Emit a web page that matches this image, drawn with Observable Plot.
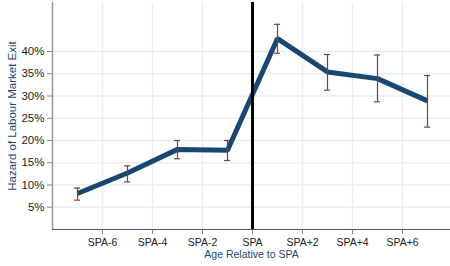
<!DOCTYPE html>
<html><head><meta charset="utf-8">
<script src="https://cdn.jsdelivr.net/npm/d3@7"></script>
<script src="https://cdn.jsdelivr.net/npm/@observablehq/plot@0.6"></script>
<style>body{margin:0;background:#fff}</style>
</head><body><div id="chart"></div>
<script>
const years = [-7, -5, -3, -1, 1, 3, 5, 7];
const hazard = [8.1, 12.7, 18.0, 17.8, 42.9, 35.4, 33.9, 28.9];
const ciLow = [6.6, 10.7, 15.9, 15.5, 39.6, 31.3, 28.7, 23.0];
const ciHigh = [9.3, 14.3, 20.0, 20.0, 46.1, 39.3, 39.2, 34.6];
const xTicks = [-6, -4, -2, 0, 2, 4, 6];
const xTickLabels = ["SPA-6", "SPA-4", "SPA-2", "SPA", "SPA+2", "SPA+4", "SPA+6"];
const yTicks = [5, 10, 15, 20, 25, 30, 35, 40];
const spaLine = [0];

const data = years.map((x, i) => ({x, y: hazard[i], lo: ciLow[i], hi: ciHigh[i]}));
const navy = "#1a476f";
const maroon = "#90353b";
const grid = "#e8eff2";
const capHalf = 0.12;

const chart = Plot.plot({
  width: 450,
  height: 266,
  marginLeft: 52,
  marginRight: 0,
  marginTop: 2,
  marginBottom: 37,
  style: {fontFamily: "'Liberation Sans', Arial, sans-serif", fontSize: "10px", background: "#fff"},
  x: {domain: [-8, 7.92]},
  y: {domain: [0, 51]},
  marks: [
    Plot.ruleY(yTicks, {stroke: grid, strokeWidth: 1.5}),
    Plot.ruleX(xTicks, {stroke: grid, strokeWidth: 1.5}),
    Plot.axisY({ticks: yTicks, tickFormat: d => d + "%", tickSize: 5, tickPadding: 3, stroke: "#888",
      color: "#222", label: "Hazard of Labour Market Exit", labelAnchor: "center", labelArrow: "none", labelOffset: 45, fontSize: 11.5}),
    Plot.axisX({ticks: xTicks, tickFormat: d => xTickLabels[xTicks.indexOf(d)], tickSize: 5, tickPadding: 4, stroke: "#888",
      color: "#222", label: "Age Relative to SPA", labelAnchor: "center", labelArrow: "none", labelOffset: 28, fontSize: 10.5}),
    Plot.ruleX([-8], {stroke: "#999", strokeWidth: 1.5}),
    Plot.ruleY([0], {stroke: "#555", strokeWidth: 1.2}),
    Plot.line(data, {x: "x", y: "y", stroke: navy, strokeWidth: 5, strokeLinejoin: "miter", strokeLinecap: "butt"}),
    Plot.ruleX(data, {x: "x", y1: "lo", y2: "hi", stroke: maroon, strokeWidth: 1.2}),
    Plot.ruleY(data, {y: "lo", x1: d => d.x - capHalf, x2: d => d.x + capHalf, stroke: maroon, strokeWidth: 1.2}),
    Plot.ruleY(data, {y: "hi", x1: d => d.x - capHalf, x2: d => d.x + capHalf, stroke: maroon, strokeWidth: 1.2}),
    Plot.ruleX(spaLine, {stroke: "#000", strokeWidth: 3})
  ]
});
chart.querySelectorAll("[aria-label='y-axis label'] text, [aria-label='x-axis label'] text").forEach(t => t.setAttribute("fill", navy));
document.getElementById("chart").appendChild(chart);
</script>
</body></html>
